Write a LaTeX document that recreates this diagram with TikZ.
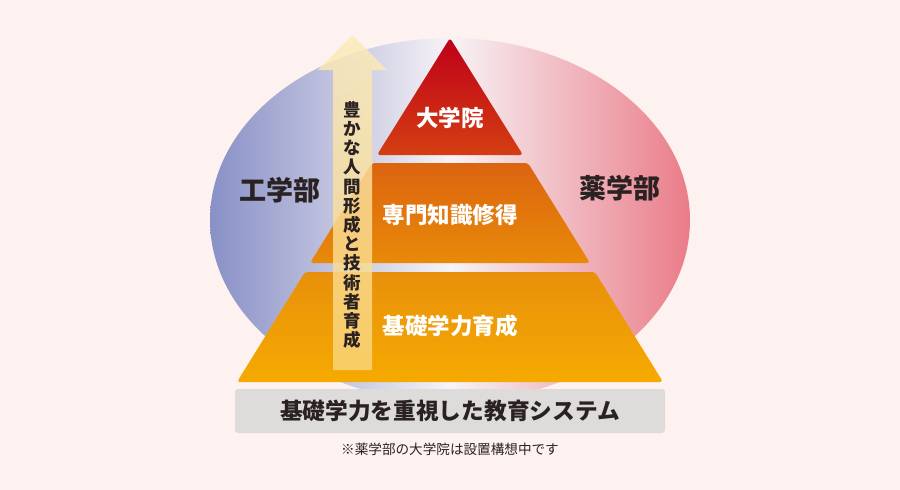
\documentclass[tikz,border=0pt]{standalone}
\usepackage{fontspec}
\newfontfamily\cjk{Noto Sans CJK JP}
\usepackage{xcolor}
\usepackage{tikz}
\usetikzlibrary{positioning}

\definecolor{bgpink}{HTML}{FDF2EF}
\definecolor{ovalblue}{HTML}{8890C6}
\definecolor{ovalmid}{HTML}{F7F3F6}
\definecolor{ovalpink}{HTML}{EA7C88}
\definecolor{topred}{HTML}{BE0019}
\definecolor{topredlow}{HTML}{D43E12}
\definecolor{midtop}{HTML}{DC6410}
\definecolor{midlow}{HTML}{E88A08}
\definecolor{basetop}{HTML}{E8900C}
\definecolor{baselow}{HTML}{F5AA00}
\definecolor{arrowlow}{HTML}{FAD67C}
\definecolor{arrowtop}{HTML}{FCEBBA}
\definecolor{bargray}{HTML}{DDDCDA}
\definecolor{inkdark}{HTML}{2A2222}

\begin{document}
\begin{tikzpicture}[x=1pt, y=-1pt,
band/.style={rounded corners=3pt},
layerlabel/.style={font=\cjk\bfseries\fontsize{22.5}{25}\selectfont, text=white},
facultylabel/.style={font=\cjk\bfseries\fontsize{27}{30}\selectfont, text=inkdark},
stacklabel/.style={font=\cjk\bfseries\fontsize{17.5}{19.2}\selectfont, text=inkdark, align=center}
]
% Background
\fill[bgpink] (0,0) rectangle (900,490);

% Faculty oval
\shade[left color=ovalblue, right color=ovalpink, middle color=ovalmid]
  (450,220) ellipse [x radius=240, y radius=182];

% Pyramid
\shade[band, top color=topred, bottom color=topredlow]
  (450,38) -- (523,155) -- (377,155) -- cycle;
\shade[band, top color=midtop, bottom color=midlow]
  (372,163) -- (528,163) -- (590,263) -- (310,263) -- cycle;
\shade[band, top color=basetop, bottom color=baselow]
  (305,272) -- (595,272) -- (663,382) -- (237,382) -- cycle;

% Upward arrow
\shade[top color=arrowtop, bottom color=arrowlow, fill opacity=0.82]
  (333,370) -- (333,70) -- (318,70) -- (352.5,35) -- (387,70)
  -- (372,70) -- (372,370) -- cycle;

% Base bar
\fill[bargray, rounded corners=3pt] (235,389) rectangle (665,433);

% Labels
\node[layerlabel] (grad) at (450,118) {大学院};
\node[layerlabel] (spec) at (450,215) {専門知識修得};
\node[layerlabel] (basic) at (450,326) {基礎学力育成};
\node[facultylabel] (eng) at (280,190) {工学部};
\node[facultylabel] (pharm) at (620,188) {薬学部};
\node[stacklabel] (growth) at (352.5,225)
  {豊\\か\\な\\人\\間\\形\\成\\と\\技\\術\\者\\育\\成};
\node[font=\cjk\bfseries\fontsize{22.7}{25}\selectfont, text=inkdark] (system) at (450,411)
  {基礎学力を重視した教育システム};
\node[font=\cjk\fontsize{13.6}{15}\selectfont, text=inkdark] (note) at (450,449)
  {※薬学部の大学院は設置構想中です};
\end{tikzpicture}
\end{document}
